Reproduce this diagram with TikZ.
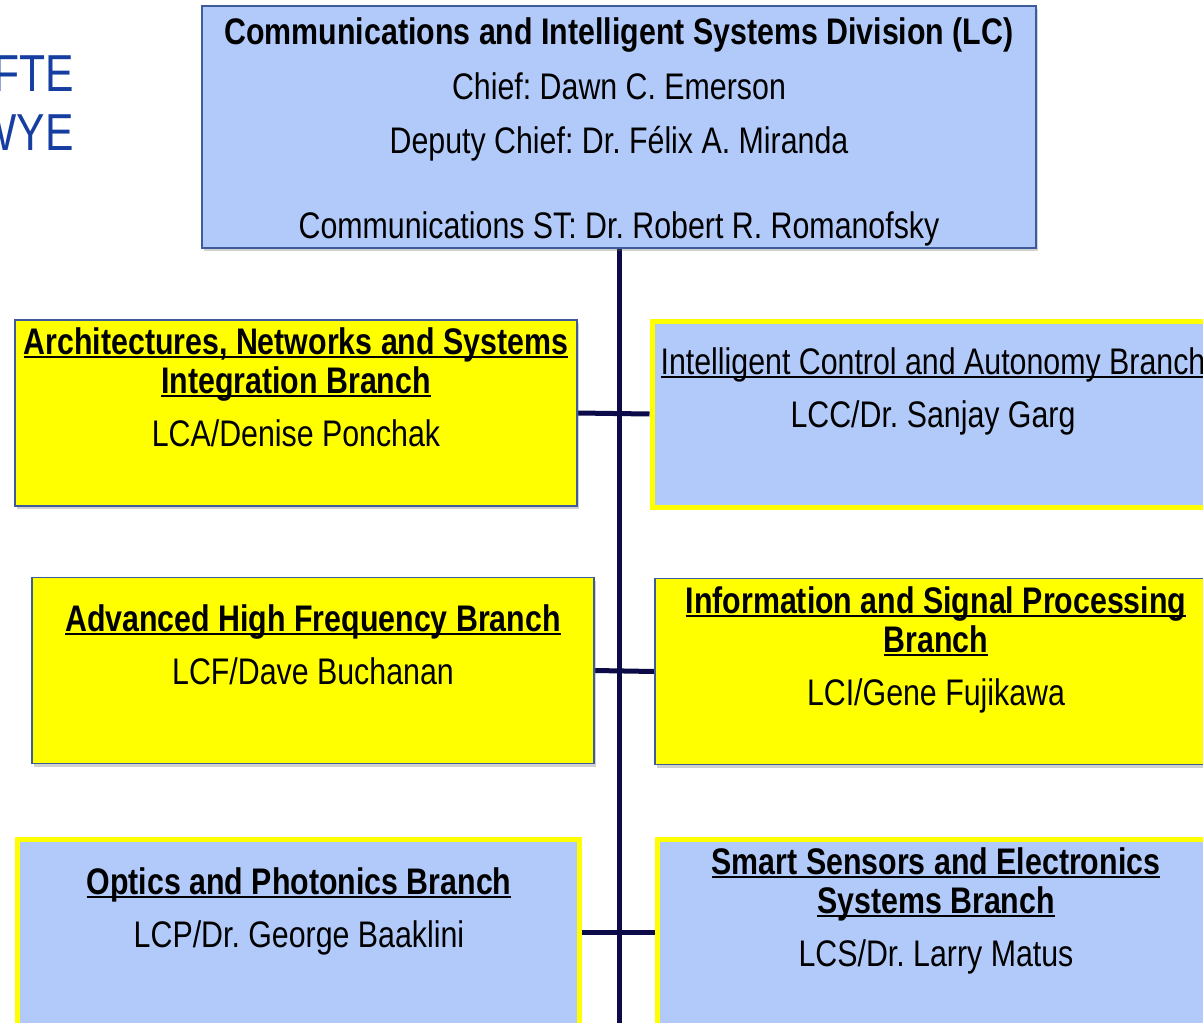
\documentclass[tikz,border=0pt]{standalone}
\usepackage{fontspec}
\setmainfont[FakeStretch=0.82]{Liberation Sans}
\usetikzlibrary{shadows,backgrounds}
\definecolor{boxblue}{RGB}{178,202,250}
\definecolor{boxyellow}{RGB}{255,255,0}
\definecolor{edgeblue}{RGB}{62,92,156}
\definecolor{trunknavy}{RGB}{12,10,72}
\definecolor{wordblue}{RGB}{22,62,160}
\newcommand{\brunder}[1]{\leavevmode\setbox0\hbox{#1}\rlap{\rule[-4pt]{\wd0}{2pt}}\box0}
\frenchspacing

\begin{document}
\begin{tikzpicture}[x=1pt,y=1pt,yscale=-1,
    font=\fontsize{37}{39}\selectfont,
    shade/.style={drop shadow={shadow xshift=2pt,shadow yshift=-3pt,opacity=.3,fill=black!60}},
    divbox/.style={draw=edgeblue,line width=1.5pt,fill=boxblue,minimum width=834pt,minimum height=242pt,inner sep=0pt,shade},
    yellowbox/.style={draw=edgeblue,line width=1.5pt,fill=boxyellow,minimum width=562pt,minimum height=186pt,inner sep=0pt,shade},
    bluebox/.style={draw=boxyellow,line width=5pt,fill=boxblue,minimum width=562pt,minimum height=186pt,inner sep=0pt,shade},
    txt/.style={anchor=north,align=center,inner sep=0pt},
    trunk/.style={draw=trunknavy,line width=5pt}]
    \useasboundingbox (0,0) rectangle (1203,1023);
    
    % Text Node
    \node [anchor=base east,inner sep=0pt,text=wordblue,font=\fontsize{52}{56}\selectfont] (fte) at (74,91) {FTE};
    \node [anchor=base east,inner sep=0pt,text=wordblue,font=\fontsize{52}{56}\selectfont] (wye) at (74,150) {WYE};
    
    %Shape: Rectangle
    \node [divbox] (lc) at (619,127) {};
    \node [yellowbox] (lca) at (296,413) {};
    \node [bluebox] (lcc) at (933,414) {};
    \node [yellowbox] (lcf) at (313,670.5) {};
    \node [yellowbox] (lci) at (936,671.5) {};
    \node [bluebox] (lcp) at (298.5,932) {};
    \node [bluebox] (lcs) at (938,932) {};
    \coordinate (trunkend) at (619,1030);
    
    %Straight Lines
    \begin{scope}[on background layer]
    \draw [trunk] (lc.south) -- (trunkend);
    \draw [trunk] (lca.east) -- (lcc.west);
    \draw [trunk] (lcf.east) -- (lci.west);
    \draw [trunk] (lcp.east) -- (lcs.west);
    \end{scope}
    
    % Text Node
    \node [txt] (lctext) at (619,17) {\textbf{Communications and Intelligent Systems Division (LC)}\\[16pt]
    Chief: Dawn C. Emerson\\[15pt]
    Deputy Chief: Dr. Félix A. Miranda\\[46pt]
    Communications ST: Dr. Robert R. Romanofsky};
    % Text Node
    \node [txt] (lcatext) at (296,327) {\textbf{\brunder{Architectures, Networks and Systems}}\\
    \textbf{\brunder{Integration Branch}}\\[14pt]
    LCA/Denise Ponchak};
    % Text Node
    \node [txt] (lcctext) at (933,347) {\brunder{Intelligent Control and Autonomy Branch}\\[14pt]
    LCC/Dr. Sanjay Garg};
    % Text Node
    \node [txt] (lcftext) at (313,604) {\textbf{\brunder{Advanced High Frequency Branch}}\\[14pt]
    LCF/Dave Buchanan};
    % Text Node
    \node [txt] (lcitext) at (936,586) {\textbf{\brunder{Information and Signal Processing}}\\
    \textbf{\brunder{Branch}}\\[14pt]
    LCI/Gene Fujikawa};
    % Text Node
    \node [txt] (lcptext) at (299,867) {\textbf{\brunder{Optics and Photonics Branch}}\\[14pt]
    LCP/Dr. George Baaklini};
    % Text Node
    \node [txt] (lcstext) at (936,847) {\textbf{\brunder{Smart Sensors and Electronics}}\\
    \textbf{\brunder{Systems Branch}}\\[14pt]
    LCS/Dr. Larry Matus};
    
\end{tikzpicture}
\end{document}
